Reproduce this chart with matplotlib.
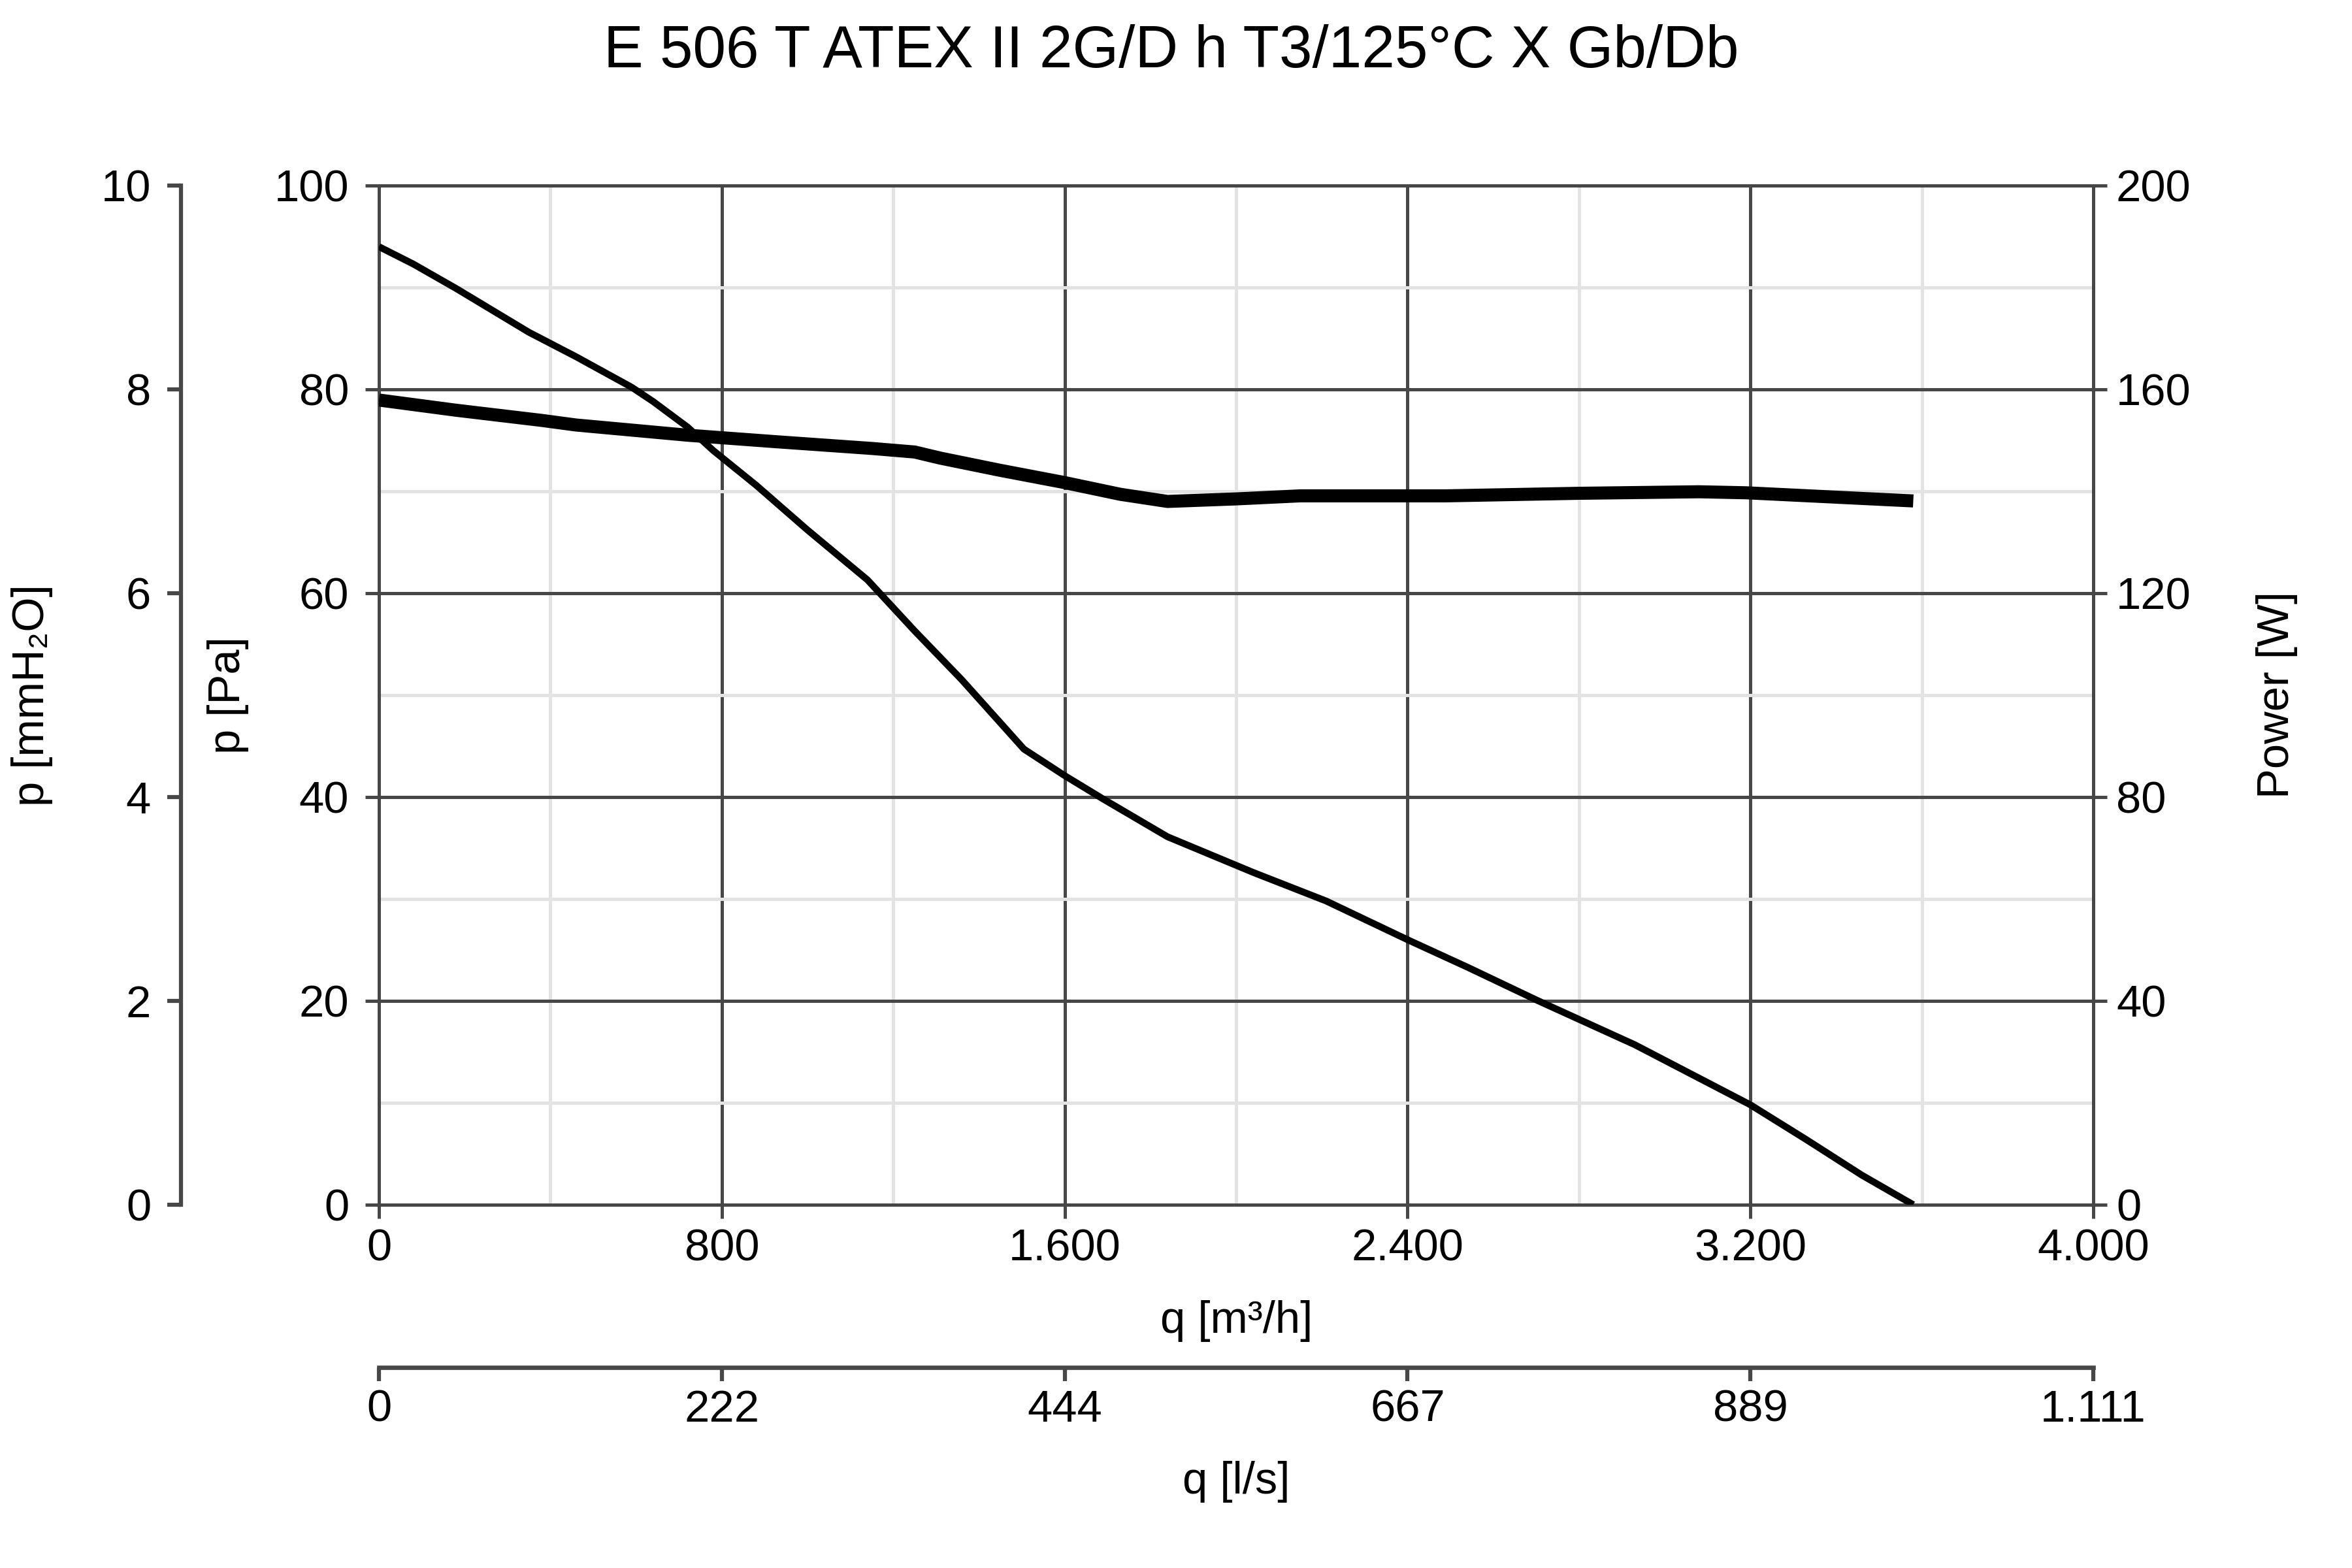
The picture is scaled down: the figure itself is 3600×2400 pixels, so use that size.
import matplotlib
matplotlib.use("Agg")
import matplotlib.pyplot as plt
from matplotlib.ticker import FixedLocator

plt.rcParams['font.family'] = ['Liberation Sans', 'DejaVu Sans']

# ---------------- data ----------------
title = "E 506 T ATEX II 2G/D h T3/125°C X Gb/Db"

q_pressure = [0, 80, 180, 350, 460, 590, 640, 720, 780, 880, 1000, 1140,
              1250, 1360, 1505, 1600, 1690, 1840, 2040, 2210, 2290, 2400, 2540,
              2700, 2930, 3200, 3330, 3460, 3580]
p_pressure = [94.0, 92.3, 89.9, 85.6, 83.2, 80.2, 78.8, 76.3, 74.0, 70.6, 66.2,
              61.3, 56.3, 51.5, 44.7, 42.1, 39.8, 36.1, 32.6, 29.8, 28.2,
              26.0, 23.3, 20.1, 15.7, 9.8, 6.4, 2.9, 0.0]

q_power = [0, 180, 380, 460, 720, 930, 1150, 1250, 1310, 1450, 1600, 1730, 1840,
           2000, 2150, 2490, 2800, 3080, 3190, 3580]
w_power = [157.9, 155.9, 153.9, 153.0, 151.0, 149.7, 148.4, 147.7, 146.5, 144.1,
           141.7, 139.4, 138.0, 138.5, 139.1, 139.1, 139.6, 139.9, 139.7, 138.1]

x_ticks = [0, 800, 1600, 2400, 3200, 4000]
x_ticklabels = ['0', '800', '1.600', '2.400', '3.200', '4.000']
ls_ticks = [0, 222.22, 444.44, 666.67, 888.89, 1111.11]
ls_ticklabels = ['0', '222', '444', '667', '889', '1.111']
pa_ticks = [0, 20, 40, 60, 80, 100]
mm_ticks = [0, 2, 4, 6, 8, 10]
w_ticks = [0, 40, 80, 120, 160, 200]

# ---------------- style ----------------
DARK = '#474747'
LIGHT = '#e3e3e3'
FS = 16.5
TL = 5.0
LW_AX = 1.2

fig = plt.figure(figsize=(12, 8), dpi=300)
ax = fig.add_axes([0.1611, 0.2317, 0.7289, 0.65])
ax.set_xlim(0, 4000)
ax.set_ylim(0, 100)

ax.xaxis.set_major_locator(FixedLocator(x_ticks))
ax.set_xticklabels(x_ticklabels)
ax.xaxis.set_minor_locator(FixedLocator([400, 1200, 2000, 2800, 3600]))
ax.yaxis.set_major_locator(FixedLocator(pa_ticks))
ax.yaxis.set_minor_locator(FixedLocator([10, 30, 50, 70, 90]))
ax.grid(True, which='minor', color=LIGHT, lw=1.2, zorder=0)
ax.grid(True, which='major', color=DARK, lw=1.2, zorder=1)
ax.set_axisbelow(True)
ax.tick_params(axis='both', which='minor', length=0)
ax.tick_params(axis='x', which='major', length=TL, width=LW_AX, color=DARK,
               labelsize=FS, pad=3.6)
ax.tick_params(axis='y', which='major', length=TL, width=LW_AX, color=DARK,
               labelsize=FS, pad=6)
for s in ax.spines.values():
    s.set_color(DARK)
    s.set_linewidth(LW_AX)

ax.plot(q_pressure, p_pressure, color='black', lw=2.5, solid_capstyle='butt',
        solid_joinstyle='round', zorder=5)

# right: power axis
ax_w = ax.twinx()
ax_w.set_ylim(0, 200)
ax_w.yaxis.set_major_locator(FixedLocator(w_ticks))
ax_w.tick_params(axis='y', length=TL, width=LW_AX, color=DARK, labelsize=FS, pad=3.4)
for s in ax_w.spines.values():
    s.set_visible(False)
ax_w.spines['right'].set_visible(True)
ax_w.spines['right'].set_color(DARK)
ax_w.spines['right'].set_linewidth(LW_AX)
ax_w.plot(q_power, w_power, color='black', lw=4.8, solid_capstyle='butt',
          solid_joinstyle='round', zorder=5)

# left outer: mmH2O axis
ax_mm = ax.twinx()
ax_mm.set_ylim(0, 10)
for s in ax_mm.spines.values():
    s.set_visible(False)
ax_mm.spines['left'].set_visible(True)
ax_mm.spines['left'].set_position(('axes', -0.1155))
ax_mm.spines['left'].set_color(DARK)
ax_mm.spines['left'].set_linewidth(1.5)
ax_mm.yaxis.set_ticks_position('left')
ax_mm.yaxis.set_major_locator(FixedLocator(mm_ticks))
ax_mm.tick_params(axis='y', length=TL, width=1.5, color=DARK, labelsize=FS, pad=6)

# bottom outer: l/s axis
ax_ls = ax.twiny()
ax_ls.set_xlim(0, 4000 / 3.6)
for s in ax_ls.spines.values():
    s.set_visible(False)
ax_ls.spines['bottom'].set_visible(True)
ax_ls.spines['bottom'].set_position(('axes', -0.1596))
ax_ls.spines['bottom'].set_color(DARK)
ax_ls.spines['bottom'].set_linewidth(1.6)
ax_ls.xaxis.set_ticks_position('bottom')
ax_ls.xaxis.set_major_locator(FixedLocator(ls_ticks))
ax_ls.set_xticklabels(ls_ticklabels)
ax_ls.tick_params(axis='x', length=TL, width=1.5, color=DARK, labelsize=FS, pad=2.9)

# texts
fig.text(0.498, 0.967, title, ha='center', va='center', fontsize=21.8)
fig.text(0.0135, 0.5567, 'p [mmH₂O]', rotation=90, ha='center', va='center',
         fontsize=FS)
fig.text(0.097, 0.5567, 'p [Pa]', rotation=90, ha='center', va='center', fontsize=FS)
fig.text(0.968, 0.5567, 'Power [W]', rotation=90, ha='center', va='center',
         fontsize=FS)
fig.text(0.5256, 0.1575, 'q [m³/h]', ha='center', va='center', fontsize=FS)
fig.text(0.5256, 0.055, 'q [l/s]', ha='center', va='center', fontsize=FS)

fig.savefig('out.png', dpi=300, facecolor='white')
